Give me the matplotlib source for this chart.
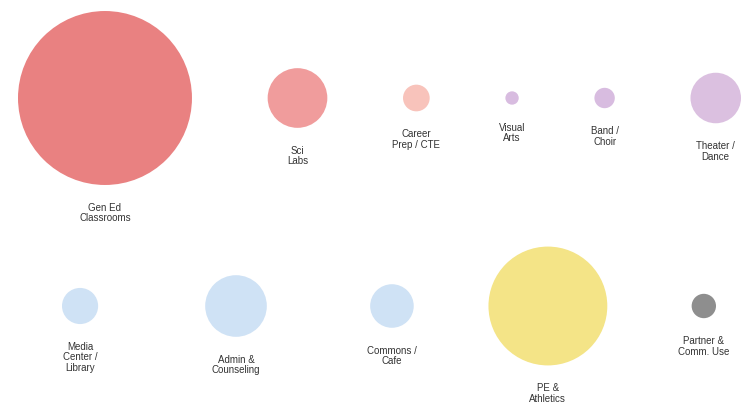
import numpy as np
import matplotlib.pyplot as plt
from matplotlib.patches import Circle

# share of building area (%), two rows of space types
row1_labels = ['Gen Ed\nClassrooms', 'Sci\nLabs', 'Career\nPrep / CTE', 'Visual\nArts', 'Band /\nChoir', 'Theater /\nDance']
row1_values = [51.0, 6.0, 1.2, 0.3, 0.7, 4.3]
row1_colors = ['#E98181', '#F09C9C', '#F8C3BB', '#D8BCE0', '#D8BCE0', '#DBC0E0']

row2_labels = ['Media\nCenter /\nLibrary', 'Admin &\nCounseling', 'Commons /\nCafe', 'PE &\nAthletics', 'Partner &\nComm. Use']
row2_values = [2.2, 6.4, 3.2, 23.8, 1.0]
row2_colors = ['#CFE2F5', '#CFE2F5', '#CFE2F5', '#F4E487', '#8E8E8E']

W, H = 750, 403
K = 12.18  # px of radius per sqrt(value)


def row_x(radii, left, right, min_gap=60):
    n = len(radii)
    c = np.linspace(left + radii[0], right - radii[-1], n)
    gaps = np.diff(c) - (radii[:-1] + radii[1:])
    if gaps.min() < min_gap:
        # too tight: spread with equal edge-to-edge gaps instead
        gap = (right - left - 2 * radii.sum()) / (n - 1)
        edges = left + np.concatenate([[0], np.cumsum(2 * radii[:-1] + gap)])
        c = edges + radii
    return c


fig = plt.figure(figsize=(W / 100, H / 100), dpi=100)
ax = fig.add_axes([0, 0, 1, 1])
ax.set_xlim(0, W)
ax.set_ylim(H, 0)
ax.axis('off')

rows = [
    (row1_labels, row1_values, row1_colors, 98, 18, 741),
    (row2_labels, row2_values, row2_colors, 306, 62, 716),
]
for labels, values, colors, cy, left, right in rows:
    radii = K * np.sqrt(np.array(values))
    xs = row_x(radii, left, right)
    for x, r, lab, col in zip(xs, radii, labels, colors):
        ax.add_patch(Circle((x, cy), r, facecolor=col, edgecolor='none'))
        ax.text(x, cy + r + 18, lab, ha='center', va='top', fontsize=7,
                family=['Liberation Sans', 'DejaVu Sans'], color='#333333',
                linespacing=1.05)

fig.savefig('out.png', dpi=100)
